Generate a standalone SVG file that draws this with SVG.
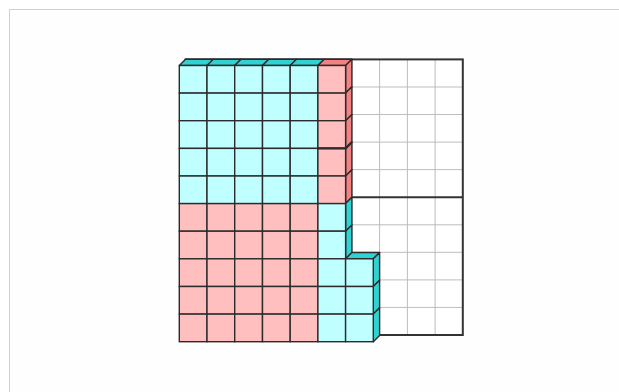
<svg xmlns="http://www.w3.org/2000/svg" width="619" height="392" viewBox="0 0 619 392">
<style>
.g{stroke:#bdbdbd;stroke-width:1;fill:none}
.fb{stroke:#333;stroke-width:2;fill:none}
.cf{fill:#bfffff;stroke:#2b2b2b;stroke-width:1.4}
.cd{fill:#30d3d3;stroke:#2b2b2b;stroke-width:1.4;stroke-linejoin:round}
.pf{fill:#ffbfbf;stroke:#2b2b2b;stroke-width:1.4}
.pd{fill:#f48282;stroke:#2b2b2b;stroke-width:1.4;stroke-linejoin:round}
</style>
<rect x="9.5" y="9.5" width="620" height="400" fill="#fefefe" stroke="#d0d0d0" stroke-width="1"/>

<g id="hundred-frame">
<rect x="185.6" y="59.4" width="277.2" height="275.6" fill="#ffffff"/>
<path class="g" d="M213.3 59.4V335M241 59.4V335M268.8 59.4V335M296.5 59.4V335M324.2 59.4V335M351.9 59.4V335M379.6 59.4V335M407.4 59.4V335M435.1 59.4V335"/>
<path class="g" d="M185.6 87H462.8M185.6 114.5H462.8M185.6 142.1H462.8M185.6 169.6H462.8M185.6 224.8H462.8M185.6 252.3H462.8M185.6 279.9H462.8M185.6 307.4H462.8"/>
<path class="fb" d="M185.6 197.2H462.8"/>
<rect class="fb" x="185.6" y="59.4" width="277.2" height="275.6"/>
</g>

<g id="cyan-block-top">
<path class="cd" d="M179.3 65.5H207L213.3 59.2H185.6Z"/>
<path class="cd" d="M207 65.5H234.7L241 59.2H213.3Z"/>
<path class="cd" d="M234.7 65.5H262.5L268.8 59.2H241Z"/>
<path class="cd" d="M262.5 65.5H290.2L296.5 59.2H268.8Z"/>
<path class="cd" d="M290.2 65.5H317.9L324.2 59.2H296.5Z"/>
<g class="cf">
<rect x="179.3" y="65.5" width="27.7" height="27.6"/><rect x="207" y="65.5" width="27.7" height="27.6"/><rect x="234.7" y="65.5" width="27.8" height="27.6"/><rect x="262.5" y="65.5" width="27.7" height="27.6"/><rect x="290.2" y="65.5" width="27.7" height="27.6"/>
<rect x="179.3" y="93.1" width="27.7" height="27.6"/><rect x="207" y="93.1" width="27.7" height="27.6"/><rect x="234.7" y="93.1" width="27.8" height="27.6"/><rect x="262.5" y="93.1" width="27.7" height="27.6"/><rect x="290.2" y="93.1" width="27.7" height="27.6"/>
<rect x="179.3" y="120.7" width="27.7" height="27.7"/><rect x="207" y="120.7" width="27.7" height="27.7"/><rect x="234.7" y="120.7" width="27.8" height="27.7"/><rect x="262.5" y="120.7" width="27.7" height="27.7"/><rect x="290.2" y="120.7" width="27.7" height="27.7"/>
<rect x="179.3" y="148.4" width="27.7" height="27.6"/><rect x="207" y="148.4" width="27.7" height="27.6"/><rect x="234.7" y="148.4" width="27.8" height="27.6"/><rect x="262.5" y="148.4" width="27.7" height="27.6"/><rect x="290.2" y="148.4" width="27.7" height="27.6"/>
<rect x="179.3" y="176" width="27.7" height="27.6"/><rect x="207" y="176" width="27.7" height="27.6"/><rect x="234.7" y="176" width="27.8" height="27.6"/><rect x="262.5" y="176" width="27.7" height="27.6"/><rect x="290.2" y="176" width="27.7" height="27.6"/>
</g>
</g>

<g id="pink-column">
<path class="pd" d="M317.9 65.5H345.6L351.9 59.2H324.2Z"/>
<path class="pd" d="M345.6 65.5L351.9 59.2V86.8L345.6 93.1Z"/>
<path class="pd" d="M345.6 93.1L351.9 86.8V114.4L345.6 120.7Z"/>
<path class="pd" d="M345.6 120.7L351.9 114.4V142.1L345.6 148.4Z"/>
<path class="pd" d="M345.6 148.4L351.9 142.1V169.7L345.6 176Z"/>
<path class="pd" d="M345.6 176L351.9 169.7V197.3L345.6 203.6Z"/>
<g class="pf">
<rect x="317.9" y="65.5" width="27.7" height="27.6"/>
<rect x="317.9" y="93.1" width="27.7" height="27.6"/>
<rect x="317.9" y="120.7" width="27.7" height="27.7"/>
<rect x="317.9" y="148.4" width="27.7" height="27.6"/>
<rect x="317.9" y="176" width="27.7" height="27.6"/>
</g>
<path d="M317.9 148.4H345.6L351.9 142.1" fill="none" stroke="#2b2b2b" stroke-width="2.2"/>
</g>

<g id="pink-block" class="pf">
<rect x="179.3" y="203.6" width="27.7" height="27.6"/><rect x="207" y="203.6" width="27.7" height="27.6"/><rect x="234.7" y="203.6" width="27.8" height="27.6"/><rect x="262.5" y="203.6" width="27.7" height="27.6"/><rect x="290.2" y="203.6" width="27.7" height="27.6"/>
<rect x="179.3" y="231.2" width="27.7" height="27.6"/><rect x="207" y="231.2" width="27.7" height="27.6"/><rect x="234.7" y="231.2" width="27.8" height="27.6"/><rect x="262.5" y="231.2" width="27.7" height="27.6"/><rect x="290.2" y="231.2" width="27.7" height="27.6"/>
<rect x="179.3" y="258.8" width="27.7" height="27.7"/><rect x="207" y="258.8" width="27.7" height="27.7"/><rect x="234.7" y="258.8" width="27.8" height="27.7"/><rect x="262.5" y="258.8" width="27.7" height="27.7"/><rect x="290.2" y="258.8" width="27.7" height="27.7"/>
<rect x="179.3" y="286.5" width="27.7" height="27.6"/><rect x="207" y="286.5" width="27.7" height="27.6"/><rect x="234.7" y="286.5" width="27.8" height="27.6"/><rect x="262.5" y="286.5" width="27.7" height="27.6"/><rect x="290.2" y="286.5" width="27.7" height="27.6"/>
<rect x="179.3" y="314.1" width="27.7" height="27.6"/><rect x="207" y="314.1" width="27.7" height="27.6"/><rect x="234.7" y="314.1" width="27.8" height="27.6"/><rect x="262.5" y="314.1" width="27.7" height="27.6"/><rect x="290.2" y="314.1" width="27.7" height="27.6"/>
</g>

<g id="cyan-step">
<path class="cd" d="M345.6 203.6L351.9 197.3V224.9L345.6 231.2Z"/>
<path class="cd" d="M345.6 231.2L351.9 224.9V252.5L345.6 258.8Z"/>
<path class="cd" d="M345.6 258.8H373.3L379.6 252.5H351.9Z"/>
<path class="cd" d="M373.3 258.8L379.6 252.5V280.2L373.3 286.5Z"/>
<path class="cd" d="M373.3 286.5L379.6 280.2V307.8L373.3 314.1Z"/>
<path class="cd" d="M373.3 314.1L379.6 307.8V335.4L373.3 341.7Z"/>
<g class="cf">
<rect x="317.9" y="203.6" width="27.7" height="27.6"/>
<rect x="317.9" y="231.2" width="27.7" height="27.6"/>
<rect x="317.9" y="258.8" width="27.7" height="27.7"/>
<rect x="317.9" y="286.5" width="27.7" height="27.6"/>
<rect x="317.9" y="314.1" width="27.7" height="27.6"/>
<rect x="345.6" y="258.8" width="27.7" height="27.7"/>
<rect x="345.6" y="286.5" width="27.7" height="27.6"/>
<rect x="345.6" y="314.1" width="27.7" height="27.6"/>
</g>
</g>
</svg>
